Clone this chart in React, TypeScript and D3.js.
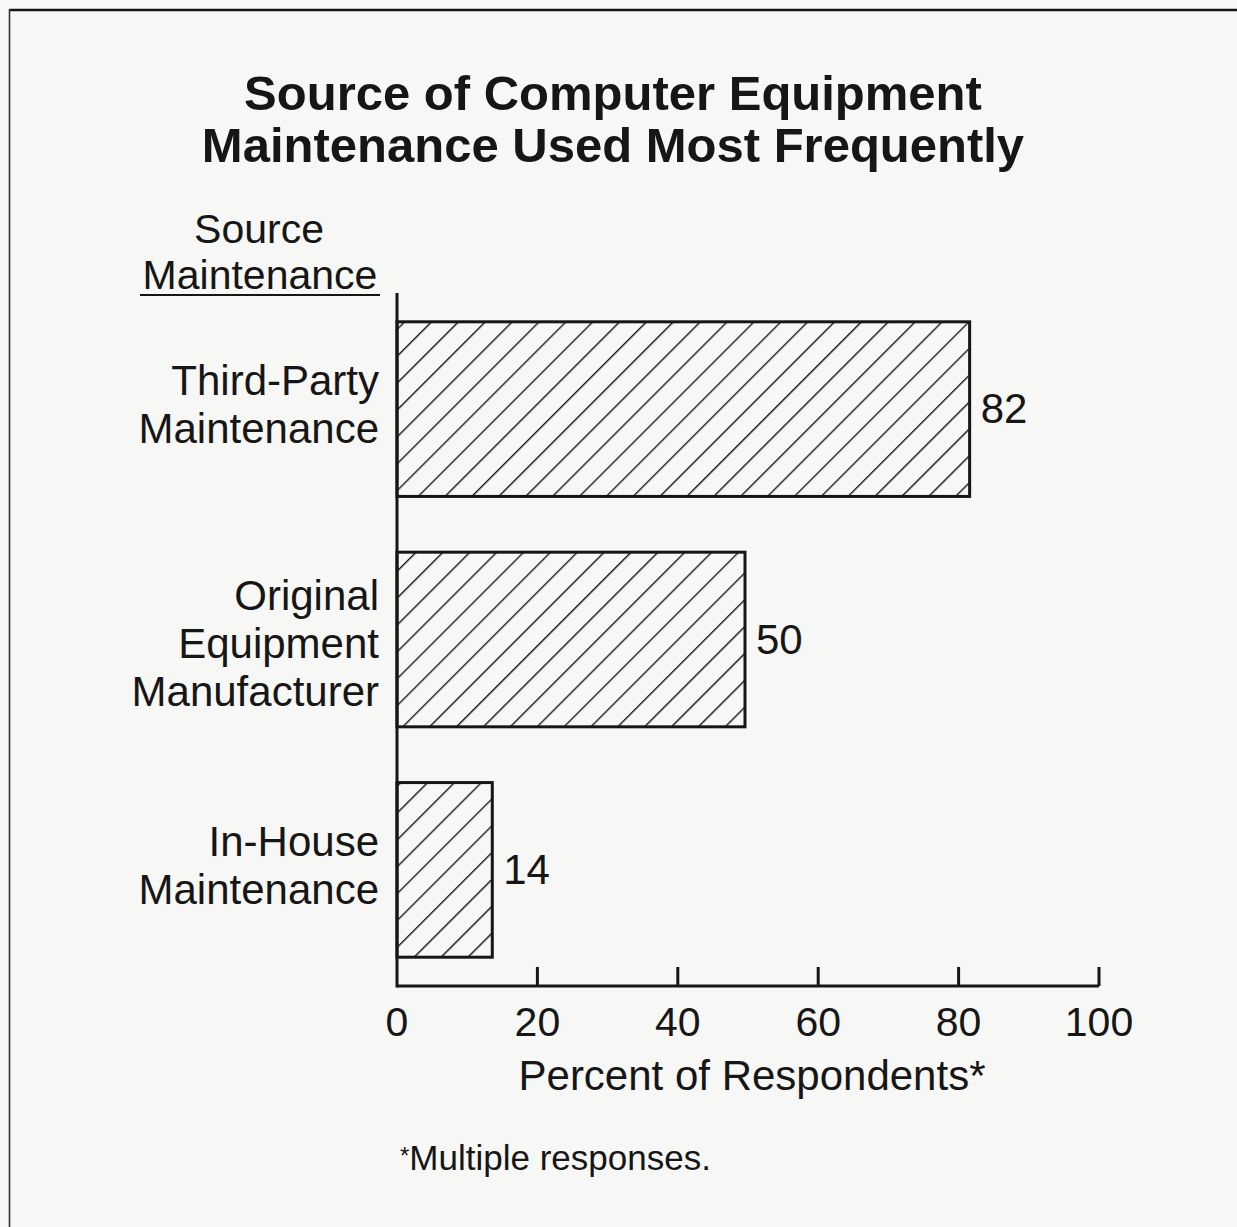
import React from "react";
import * as d3 from "d3";

const categories = [
  ["Third-Party", "Maintenance"],
  ["Original", "Equipment", "Manufacturer"],
  ["In-House", "Maintenance"],
];
const values = [82, 50, 14];
const ticks = [0, 20, 40, 60, 80, 100];
const titleLines = ["Source of Computer Equipment", "Maintenance Used Most Frequently"];
const axisTitle = "Percent of Respondents*";
const footnote = "Multiple responses.";
const yHeaderLines = ["Source", "Maintenance"];

const W = 1237;
const H = 1227;
const INK = "#161616";
const FONT = "'Liberation Sans', Arial, Helvetica, sans-serif";

export default function App() {
  const x = d3.scaleLinear().domain([0, 100]).range([397, 1099]);
  const y = d3
    .scaleBand<number>()
    .domain(values.map((_, i) => i))
    .range([293, 986])
    .paddingInner(0.242)
    .paddingOuter(0.125);
  const axisY = 986;
  const lineH = 48;

  return (
    <svg
      width={W}
      height={H}
      style={{ position: "absolute", left: 0, top: 0, display: "block" }}
      fontFamily={FONT}
    >
      <defs>
        <pattern
          id="hatch"
          patternUnits="userSpaceOnUse"
          width={19}
          height={19}
          patternTransform="rotate(45)"
        >
          <line x1={0} y1={0} x2={0} y2={19} stroke={INK} strokeWidth={2.8} />
        </pattern>
      </defs>
      <rect x={0} y={0} width={W} height={H} fill="#f7f7f5" />
      {/* frame */}
      <line x1={9.5} y1={10} x2={W + 5} y2={10} stroke={INK} strokeWidth={2.5} />
      <line x1={9.5} y1={9} x2={9.5} y2={H + 5} stroke="#333" strokeWidth={1.6} />

      {/* title */}
      {titleLines.map((t, i) => (
        <text
          key={t}
          x={613}
          y={110 + i * 52}
          textAnchor="middle"
          fontSize={49}
          fontWeight="bold"
          fill={INK}
        >
          {t}
        </text>
      ))}

      {/* y header */}
      <text x={259} y={243} textAnchor="middle" fontSize={41} fill={INK}>
        {yHeaderLines[0]}
      </text>
      <text x={260} y={289} textAnchor="middle" fontSize={41} fill={INK}>
        {yHeaderLines[1]}
      </text>
      <line x1={140} y1={295} x2={380} y2={295} stroke={INK} strokeWidth={2} />

      {/* bars */}
      {values.map((v, i) => {
        const y0 = y(i)!;
        const bh = y.bandwidth();
        const cy = y0 + bh / 2;
        const labs = categories[i];
        const startY =
          cy - ((labs.length - 1) * lineH) / 2 + 10 + (labs.length > 2 ? 8 : 0);
        return (
          <g key={i}>
            <rect
              x={x(0)}
              y={y0}
              width={x(v) - x(0) - 3}
              height={bh}
              fill="url(#hatch)"
              stroke={INK}
              strokeWidth={3}
            />
            <text x={x(v) + 8} y={cy + 14} fontSize={42} fill={INK}>
              {v}
            </text>
            {labs.map((l, j) => (
              <text
                key={j}
                x={379}
                y={startY + j * lineH}
                textAnchor="end"
                fontSize={42}
                fill={INK}
              >
                {l}
              </text>
            ))}
          </g>
        );
      })}

      {/* axes */}
      <line x1={x(0)} y1={293} x2={x(0)} y2={axisY + 1.5} stroke={INK} strokeWidth={3} />
      <line x1={x(0)} y1={axisY} x2={x(100)} y2={axisY} stroke={INK} strokeWidth={3} />
      {ticks.map((t) => (
        <g key={t}>
          {t > 0 && (
            <line x1={x(t)} y1={axisY} x2={x(t)} y2={axisY - 19} stroke={INK} strokeWidth={3} />
          )}
          <text x={x(t)} y={1036} textAnchor="middle" fontSize={41} fill={INK}>
            {t}
          </text>
        </g>
      ))}
      <text x={752} y={1090} textAnchor="middle" fontSize={42} fill={INK}>
        {axisTitle}
      </text>
      <text x={400} y={1170} fontSize={35} fill={INK}>
        <tspan fontSize={24} dy={-6}>*</tspan>
        <tspan dy={6}>{footnote}</tspan>
      </text>
    </svg>
  );
}
